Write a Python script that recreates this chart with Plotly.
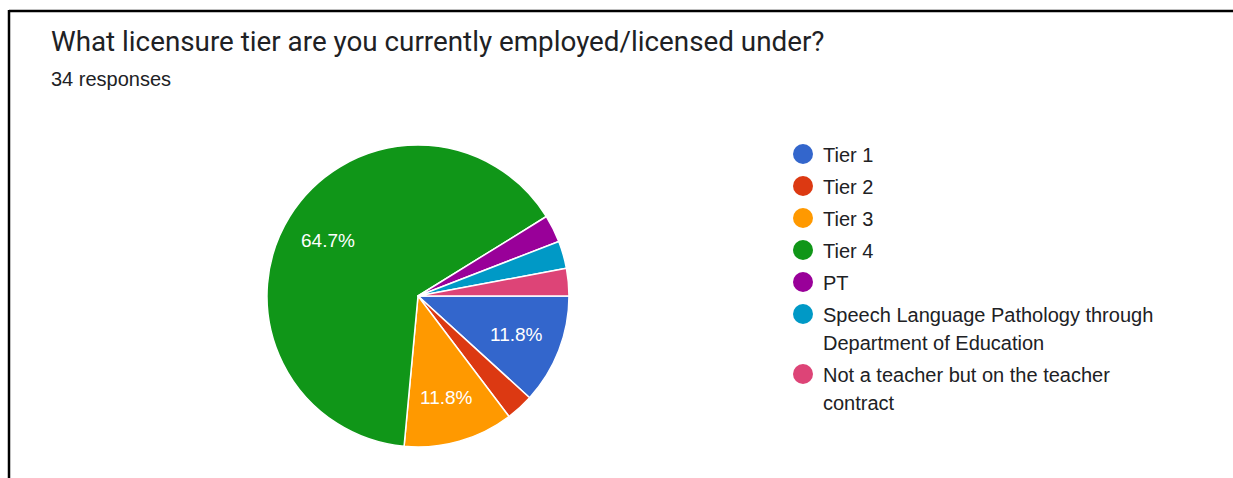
import math
import plotly.graph_objects as go

# Survey results: licensure tier (34 responses)
categories = [
    "Tier 1",
    "Tier 2",
    "Tier 3",
    "Tier 4",
    "PT",
    "Speech Language Pathology through Department of Education",
    "Not a teacher but on the teacher contract",
]
legend_lines = [
    ["Tier 1"],
    ["Tier 2"],
    ["Tier 3"],
    ["Tier 4"],
    ["PT"],
    ["Speech Language Pathology through", "Department of Education"],
    ["Not a teacher but on the teacher", "contract"],
]
counts = [4, 1, 4, 22, 1, 1, 1]
colors = ["#3366CC", "#DC3912", "#FF9900", "#109618", "#990099", "#0099C6", "#DD4477"]

title = "What licensure tier are you currently employed/licensed under?"
subtitle = "34 responses"

W, H = 1233, 478
CX, CY, R = 418, 296, 151  # pie centre and radius in pixels


def px(x):
    return x / W


def py(y):
    return 1 - y / H


total = sum(counts)

fig = go.Figure()
fig.add_trace(go.Pie(
    labels=categories,
    values=counts,
    textinfo="none",
    marker=dict(colors=colors, line=dict(color="white", width=1.5)),
    sort=False,
    direction="clockwise",
    rotation=90,
    showlegend=False,
    hoverinfo="label+percent",
    domain=dict(x=[px(CX - R), px(CX + R)], y=[py(CY + R), py(CY - R)]),
))

shapes = [
    # frame lines along the top and left edges
    dict(type="line", xref="paper", yref="paper", x0=px(9), x1=px(W + 5), y0=py(11), y1=py(11),
         line=dict(color="black", width=2.5)),
    dict(type="line", xref="paper", yref="paper", x0=px(9), x1=px(9), y0=py(10), y1=py(H + 5),
         line=dict(color="black", width=2.5)),
]
annotations = [
    dict(text=title, x=px(49), y=py(42), xref="paper", yref="paper", xanchor="left",
         yanchor="middle", showarrow=False,
         font=dict(family="Roboto, Liberation Sans", size=27.8, color="#202124")),
    dict(text=subtitle, x=px(49), y=py(79), xref="paper", yref="paper", xanchor="left",
         yanchor="middle", showarrow=False,
         font=dict(family="Liberation Sans, Arial", size=20, color="#202124")),
]

# Percentage labels at 70% of the radius, on each large slice's mid-angle
start = 0.0
for c in counts:
    frac = c / total
    mid = (start + frac / 2) * 2 * math.pi  # clockwise from 3 o'clock
    if frac >= 0.05:
        lx = CX + 0.7 * R * math.cos(mid)
        ly = CY + 0.7 * R * math.sin(mid)
        annotations.append(dict(text=f"{frac * 100:.1f}%", x=px(lx), y=py(ly),
                                xref="paper", yref="paper", xanchor="center",
                                yanchor="middle", showarrow=False,
                                font=dict(family="Liberation Sans, Arial", size=19,
                                          color="white")))
    start += frac

# Legend: colored dots with wrapped labels, one annotation per text line
y = 154
line_h = 28
for lines, col in zip(legend_lines, colors):
    r = 10
    shapes.append(dict(type="circle", xref="paper", yref="paper",
                       x0=px(803 - r), x1=px(803 + r), y0=py(y + r), y1=py(y - r),
                       fillcolor=col, line=dict(width=0)))
    for k, text in enumerate(lines):
        annotations.append(dict(text=text, x=px(821), y=py(y + 1 + k * line_h),
                                xref="paper", yref="paper", xanchor="left",
                                yanchor="middle", align="left", showarrow=False,
                                font=dict(family="Liberation Sans, Arial", size=20,
                                          color="#202124")))
    y += 32 + line_h * (len(lines) - 1)

fig.update_layout(
    width=W, height=H,
    margin=dict(l=0, r=0, t=0, b=0),
    paper_bgcolor="white",
    plot_bgcolor="white",
    shapes=shapes,
    annotations=annotations,
)

fig.write_html(
    "out.html",
    post_script="document.documentElement.style.overflow='hidden';"
                "document.body.style.margin='0';document.body.style.overflow='hidden';",
)
